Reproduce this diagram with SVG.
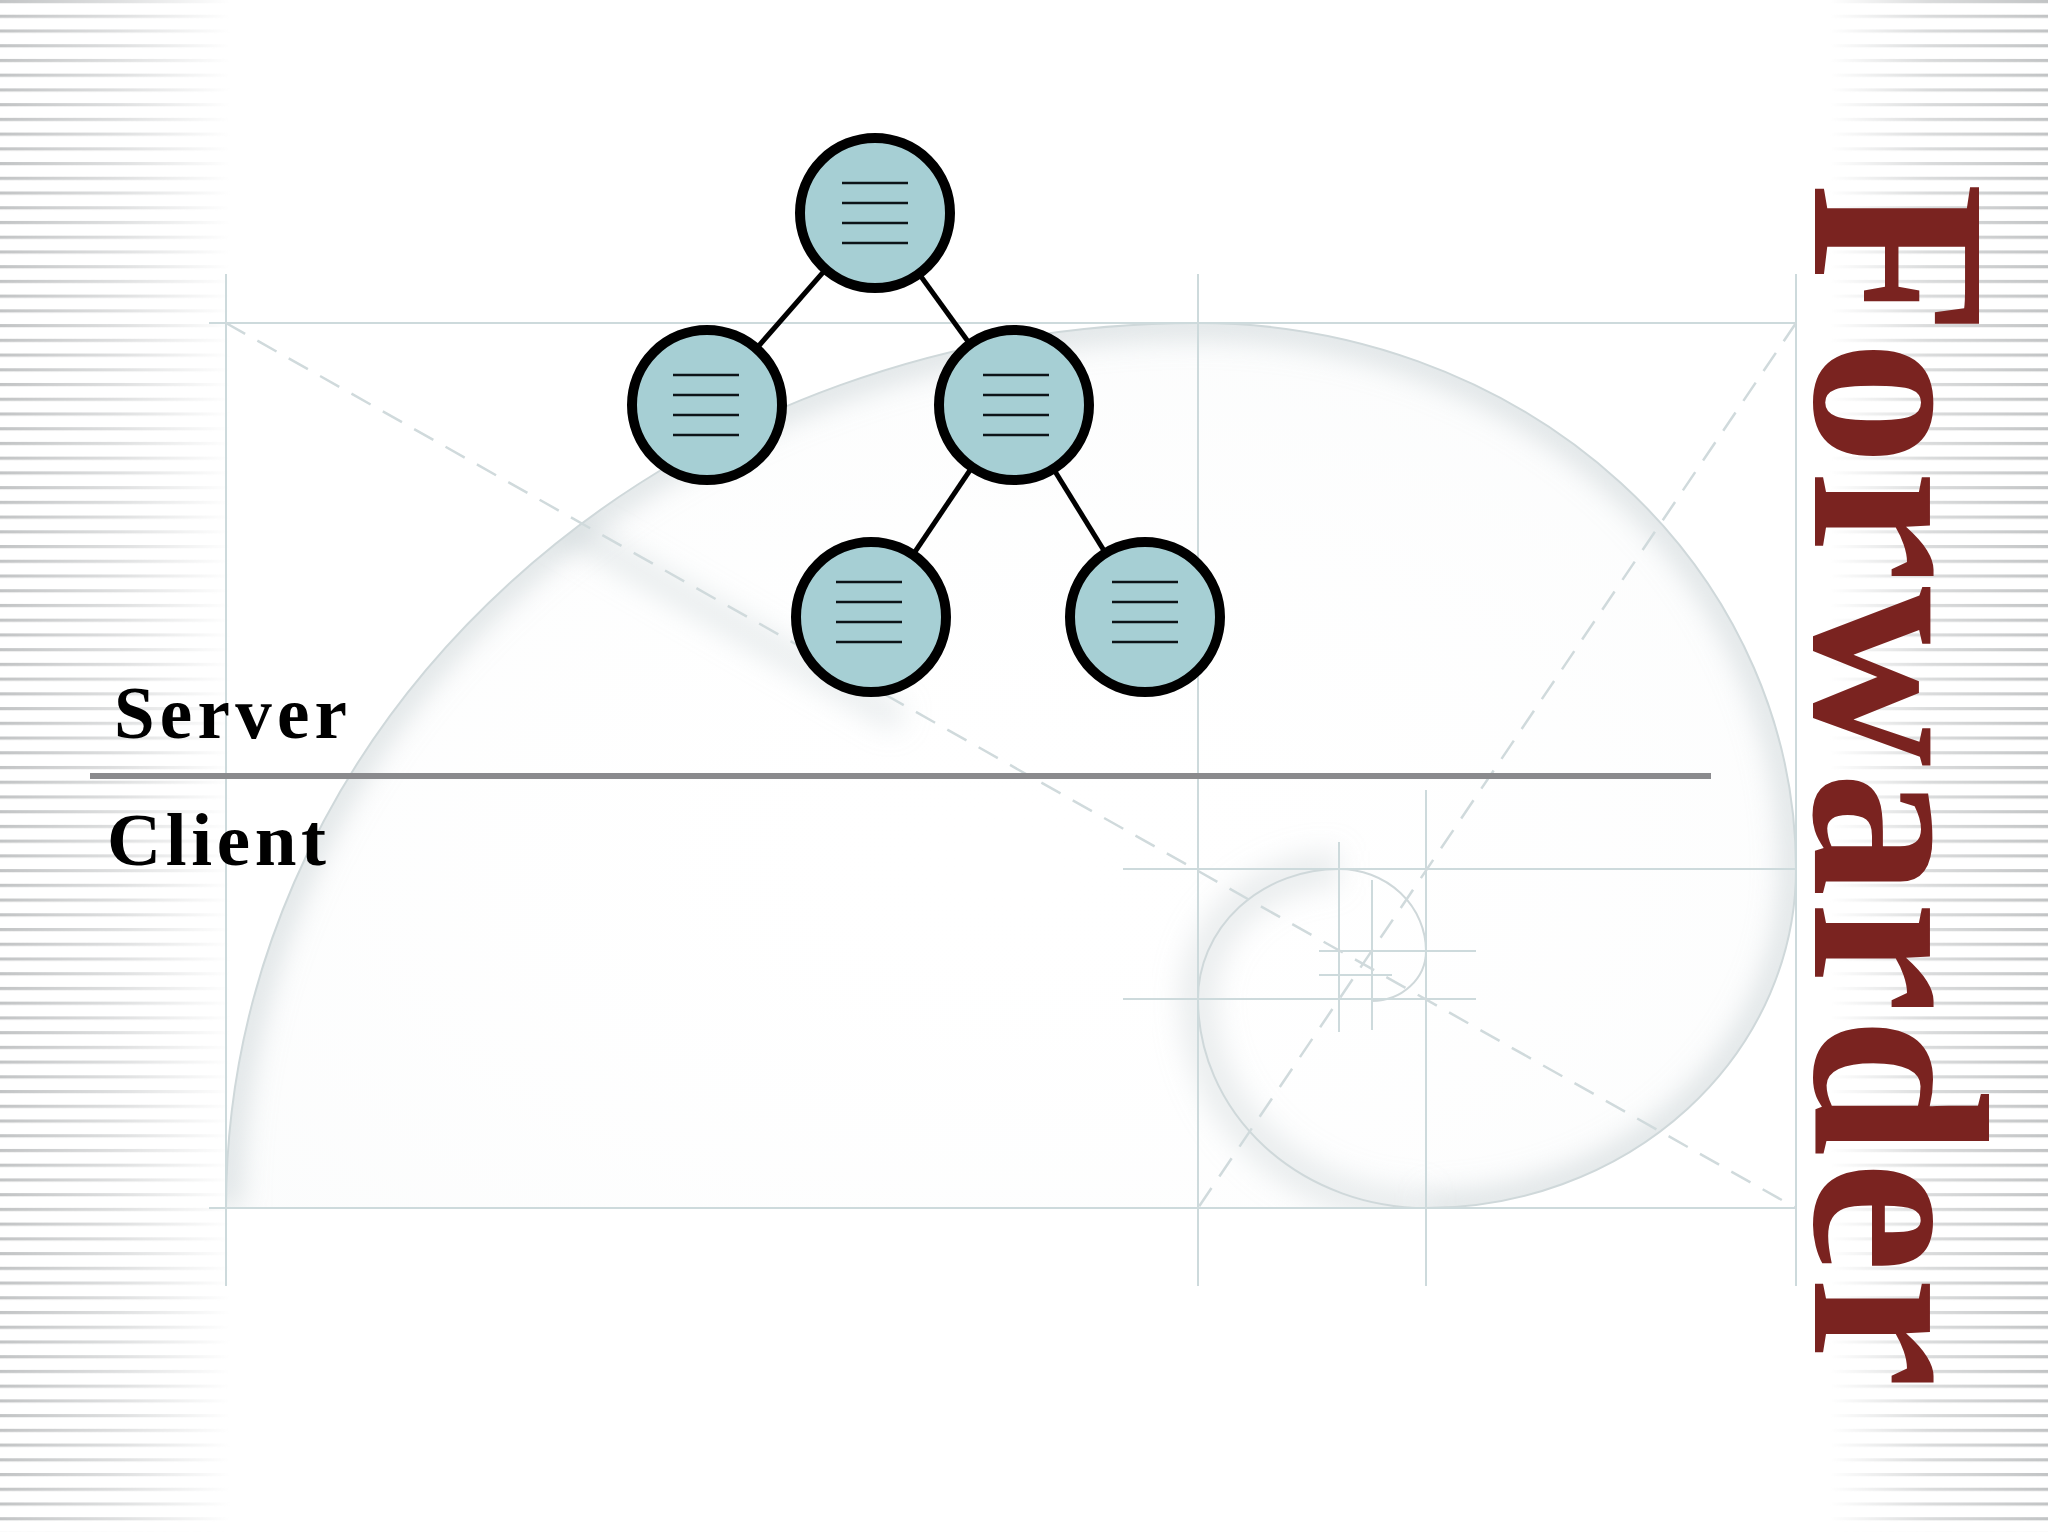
<svg xmlns="http://www.w3.org/2000/svg" width="2048" height="1532" viewBox="0 0 2048 1532">
<style>
.node circle{fill:#a6cfd4;stroke:#000;stroke-width:10}
.node line{stroke:#0d1418;stroke-width:2.6}
.edge{stroke:#000;stroke-width:5;fill:none}
.guide{stroke:#cddadc;stroke-width:2;fill:none}
.dash{stroke:#d0dadc;stroke-width:2.5;fill:none;stroke-dasharray:22 14}
.lbl{font-family:"Liberation Serif","Times New Roman",serif;font-weight:bold;fill:#000}
.title{font-family:"Liberation Serif","Times New Roman",serif;font-weight:bold;fill:#7a2320}
</style>
<defs>
<pattern id="stripes" patternUnits="userSpaceOnUse" x="0" y="0" width="20" height="14.73">
<rect x="0" y="0" width="20" height="3.2" fill="#c2c4c5"/>
</pattern>
<linearGradient id="fadeL" x1="0" y1="0" x2="1" y2="0">
<stop offset="0" stop-color="#fff" stop-opacity="1"/>
<stop offset="0.5" stop-color="#fff" stop-opacity="0.55"/>
<stop offset="1" stop-color="#fff" stop-opacity="0"/>
</linearGradient>
<linearGradient id="fadeR" x1="0" y1="0" x2="1" y2="0">
<stop offset="0" stop-color="#fff" stop-opacity="0"/>
<stop offset="0.45" stop-color="#fff" stop-opacity="0.6"/>
<stop offset="1" stop-color="#fff" stop-opacity="1"/>
</linearGradient>
<mask id="mL" maskUnits="userSpaceOnUse" x="0" y="0" width="240" height="1532"><rect x="0" y="0" width="230" height="1532" fill="url(#fadeL)"/></mask>
<mask id="mR" maskUnits="userSpaceOnUse" x="1820" y="0" width="228" height="1532"><rect x="1830" y="0" width="218" height="1532" fill="url(#fadeR)"/></mask>
<filter id="blur" x="-20%" y="-20%" width="140%" height="140%"><feGaussianBlur stdDeviation="14"/></filter>
<filter id="blurS" x="-20%" y="-20%" width="140%" height="140%"><feGaussianBlur stdDeviation="5"/></filter>
<clipPath id="spiralClip">
<path d="M226,1208 A972,885 0 0 1 1198,323 A598,546 0 0 1 1796,869 A370,339 0 0 1 1426,1208 Z"/>
</clipPath>
<radialGradient id="spFill" cx="0.5" cy="0.6" r="0.6">
<stop offset="0" stop-color="#ffffff" stop-opacity="0"/>
<stop offset="1" stop-color="#e3e9ea" stop-opacity="0.12"/>
</radialGradient>
</defs>

<rect x="0" y="0" width="2048" height="1532" fill="#ffffff"/>

<g id="background">
<rect x="0" y="0" width="240" height="1532" fill="url(#stripes)" mask="url(#mL)"/>
<rect x="1820" y="0" width="228" height="1532" fill="url(#stripes)" mask="url(#mR)"/>

<path d="M226,1208 A972,885 0 0 1 1198,323 A598,546 0 0 1 1796,869 A370,339 0 0 1 1426,1208 Z" fill="url(#spFill)"/>
<g clip-path="url(#spiralClip)">
<path d="M226,1208 A972,885 0 0 1 1198,323 A598,546 0 0 1 1796,869 A370,339 0 0 1 1426,1208" fill="none" stroke="#b9c4c7" stroke-width="30" stroke-opacity="0.45" filter="url(#blur)"/>
<path d="M1426,1208 A228,209 0 0 1 1198,999 A141,130 0 0 1 1339,869" fill="none" stroke="#c3ccce" stroke-width="36" stroke-opacity="0.35" filter="url(#blur)"/>
<line x1="380" y1="420" x2="900" y2="720" stroke="#c6d0d2" stroke-width="26" stroke-opacity="0.4" filter="url(#blur)"/>
</g>
<path d="M226,1208 A972,885 0 0 1 1198,323 A598,546 0 0 1 1796,869 A370,339 0 0 1 1426,1208 A228,209 0 0 1 1198,999 A141,130 0 0 1 1339,869 A87,82 0 0 1 1426,951 A54,50 0 0 1 1372,1001" fill="none" stroke="#cfd8da" stroke-width="2"/>

<line x1="226" y1="274" x2="226" y2="1286" class="guide"/>
<line x1="209" y1="323" x2="1796" y2="323" class="guide"/>
<line x1="209" y1="1208" x2="1796" y2="1208" class="guide"/>
<line x1="1796" y1="274" x2="1796" y2="1286" class="guide"/>
<line x1="1198" y1="274" x2="1198" y2="1286" class="guide"/>
<line x1="1426" y1="790" x2="1426" y2="1286" class="guide"/>
<line x1="1123" y1="869" x2="1796" y2="869" class="guide"/>
<line x1="1123" y1="999" x2="1476" y2="999" class="guide"/>
<line x1="1339" y1="842" x2="1339" y2="1032" class="guide"/>
<line x1="1372" y1="880" x2="1372" y2="1030" class="guide"/>
<line x1="1319" y1="951" x2="1476" y2="951" class="guide"/>
<line x1="1319" y1="975" x2="1392" y2="975" class="guide"/>
<line x1="1100" y1="323" x2="1500" y2="323" stroke="#c3cfd1" stroke-width="12" stroke-opacity="0.6" filter="url(#blurS)"/>
<line x1="1130" y1="869" x2="1500" y2="869" stroke="#c3cfd1" stroke-width="10" stroke-opacity="0.6" filter="url(#blurS)"/>
<line x1="1198" y1="330" x2="1198" y2="1280" stroke="#d2dcde" stroke-width="14" stroke-opacity="0.5" filter="url(#blurS)"/>

<line x1="226" y1="323" x2="1796" y2="1208" class="dash"/>
<line x1="1796" y1="323" x2="1198" y2="1208" class="dash"/>
</g>

<g id="connectors">
<line class="edge" x1="875" y1="213" x2="707" y2="405"/>
<line class="edge" x1="875" y1="213" x2="1014" y2="405"/>
<line class="edge" x1="1014" y1="405" x2="871" y2="617"/>
<line class="edge" x1="1014" y1="405" x2="1145" y2="617"/>
</g>

<g id="node-root" class="node">
<circle cx="875" cy="213" r="75"/>
<line x1="842" y1="183" x2="908" y2="183"/><line x1="842" y1="203" x2="908" y2="203"/><line x1="842" y1="223" x2="908" y2="223"/><line x1="842" y1="243" x2="908" y2="243"/>
</g>
<g id="node-left" class="node">
<circle cx="707" cy="405" r="75"/>
<line x1="673" y1="375" x2="739" y2="375"/><line x1="673" y1="395" x2="739" y2="395"/><line x1="673" y1="415" x2="739" y2="415"/><line x1="673" y1="435" x2="739" y2="435"/>
</g>
<g id="node-right" class="node">
<circle cx="1014" cy="405" r="75"/>
<line x1="983" y1="375" x2="1049" y2="375"/><line x1="983" y1="395" x2="1049" y2="395"/><line x1="983" y1="415" x2="1049" y2="415"/><line x1="983" y1="435" x2="1049" y2="435"/>
</g>
<g id="node-bottom-left" class="node">
<circle cx="871" cy="617" r="75"/>
<line x1="836" y1="582" x2="902" y2="582"/><line x1="836" y1="602" x2="902" y2="602"/><line x1="836" y1="622" x2="902" y2="622"/><line x1="836" y1="642" x2="902" y2="642"/>
</g>
<g id="node-bottom-right" class="node">
<circle cx="1145" cy="617" r="75"/>
<line x1="1112" y1="582" x2="1178" y2="582"/><line x1="1112" y1="602" x2="1178" y2="602"/><line x1="1112" y1="622" x2="1178" y2="622"/><line x1="1112" y1="642" x2="1178" y2="642"/>
</g>

<g id="divider">
<line x1="90" y1="776" x2="1711" y2="776" stroke="#8a8a8d" stroke-width="6"/>
</g>
<g id="labels">
<text class="lbl" x="114" y="738" font-size="73" textLength="233" lengthAdjust="spacing">Server</text>
<text class="lbl" x="107" y="865" font-size="75" textLength="219" lengthAdjust="spacing">Client</text>
</g>
<g id="title">
<text class="title" transform="translate(1815,183) rotate(90)" x="0" y="0" font-size="250" textLength="1205" lengthAdjust="spacing">Forwarder</text>
</g>
</svg>
